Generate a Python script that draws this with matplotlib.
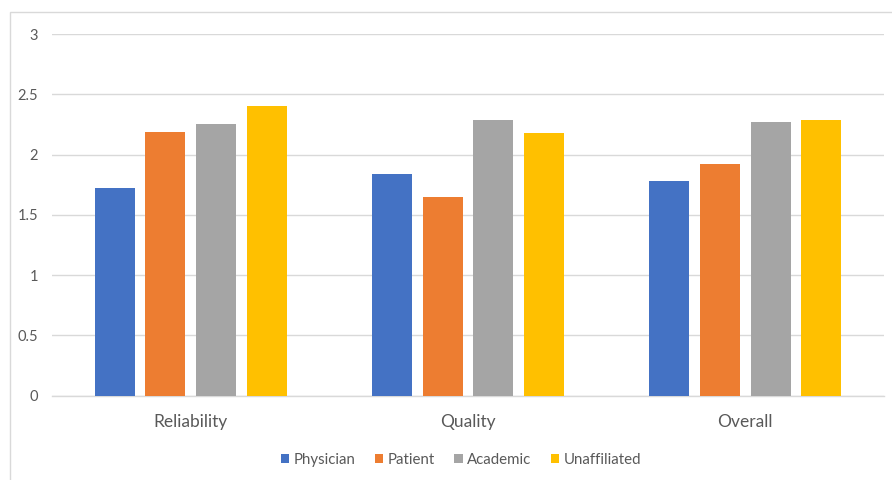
import matplotlib
matplotlib.use("Agg")
import matplotlib.pyplot as plt
from matplotlib.patches import Rectangle
import numpy as np

categories = ["Reliability", "Quality", "Overall"]
series_names = ["Physician", "Patient", "Academic", "Unaffiliated"]
physician = [1.72, 1.84, 1.78]
patient = [2.19, 1.65, 1.92]
academic = [2.25, 2.29, 2.27]
unaffiliated = [2.40, 2.18, 2.29]
y_ticks = [0, 0.5, 1, 1.5, 2, 2.5, 3]
y_tick_labels = ["0", "0.5", "1", "1.5", "2", "2.5", "3"]

colors = ["#4472C4", "#ED7D31", "#A5A5A5", "#FFC000"]
text_color = "#595959"
grid_color = "#D9D9D9"

plt.rcParams["font.family"] = ["Lato", "DejaVu Sans"]

fig = plt.figure(figsize=(8.92, 4.8), dpi=100)
fig.patch.set_facecolor("white")

# chart frame
fig.patches.append(Rectangle((10 / 892, -0.01), 1.0, (480 - 12) / 480 + 0.01,
                             transform=fig.transFigure, fill=False,
                             edgecolor=grid_color, linewidth=1.0))

ax = fig.add_axes([52 / 892, 1 - 395.7 / 480, (884 - 52) / 892, (395.7 - 34) / 480])

x = np.arange(len(categories))
step = 0.1825
width = 0.144
all_series = [physician, patient, academic, unaffiliated]
for i, (name, vals) in enumerate(zip(series_names, all_series)):
    offset = (i - 1.5) * step
    ax.bar(x + offset, vals, width=width, color=colors[i], label=name, zorder=3)

ax.set_xlim(-0.5, len(categories) - 0.5)
ax.set_ylim(0, 3)
ax.set_yticks(y_ticks)
ax.set_yticklabels(y_tick_labels)
ax.set_xticks(x)
ax.set_xticklabels(categories)
ax.grid(axis="y", color=grid_color, linewidth=1.0, zorder=0)
for side in ["top", "right", "left"]:
    ax.spines[side].set_visible(False)
ax.spines["bottom"].set_color(grid_color)
ax.spines["bottom"].set_linewidth(1.0)
ax.tick_params(axis="y", length=0, pad=10, labelsize=10.5, labelcolor=text_color)
ax.tick_params(axis="x", length=0, pad=13, labelsize=12.5, labelcolor=text_color)

leg = fig.legend(loc="center", bbox_to_anchor=(461 / 892, 1 - 460 / 480), ncol=4,
                 frameon=False, fontsize=10.8, handlelength=0.55, handleheight=0.55,
                 handletextpad=0.3, columnspacing=1.3)
for t in leg.get_texts():
    t.set_color(text_color)

fig.savefig("out.png", dpi=100)
